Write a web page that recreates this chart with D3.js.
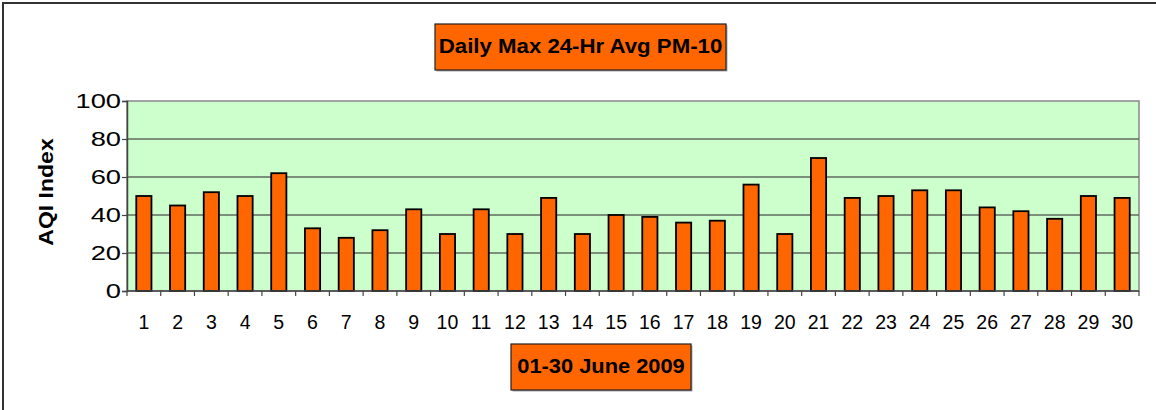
<!DOCTYPE html>
<html>
<head>
<meta charset="utf-8">
<script src="https://cdn.jsdelivr.net/npm/d3@7"></script>
<style>
  body { margin: 0; background: #fff; }
  svg { display: block; font-family: "Liberation Sans", Arial, sans-serif; }
</style>
</head>
<body>
<svg width="1156" height="410"></svg>
<script>
'use strict';

// days of June 2009
var days = d3.range(1, 31).map(String);
// daily max 24-hr avg PM-10 AQI
var aqi = [50, 45, 52, 50, 62, 33, 28, 32, 43, 30,
           43, 30, 49, 30, 40, 39, 36, 37, 56, 30,
           70, 49, 50, 53, 53, 44, 42, 38, 50, 49];
var yTicks = [0, 20, 40, 60, 80, 100];

var titleText = 'Daily Max 24-Hr Avg PM-10';
var xTitle = '01-30 June 2009';
var yTitle = 'AQI Index';

var svg = d3.select('svg');

// outer chart border (left + top only visible)
svg.append('rect')
  .attr('x', 3).attr('y', 3).attr('width', 1170).attr('height', 420)
  .attr('fill', 'none').attr('stroke', '#333').attr('stroke-width', 2);

var plotL = 127, plotR = 1139, plotT = 101, plotB = 291;

var x = d3.scaleBand().domain(days).range([plotL, plotR]).paddingInner(0.55).paddingOuter(0.275);
var xb = d3.scaleBand().domain(days).range([plotL, plotR]);
var y = d3.scaleLinear().domain([0, 100]).range([plotB, plotT]);

// plot background
svg.append('rect')
  .attr('x', plotL).attr('y', plotT)
  .attr('width', plotR - plotL).attr('height', plotB - plotT)
  .attr('fill', '#ccffcc')
  .attr('stroke', '#888').attr('stroke-width', 1.5);

// gridlines
svg.selectAll('.grid').data(yTicks.filter(function(d){ return d > 0 && d < 100; }))
  .enter().append('line')
  .attr('x1', plotL).attr('x2', plotR)
  .attr('y1', function(d){ return y(d); })
  .attr('y2', function(d){ return y(d); })
  .attr('stroke', '#5f6b5f').attr('stroke-width', 1.5);

// bars
svg.selectAll('.bar').data(aqi).enter().append('rect')
  .attr('x', function(d, i){ return x(days[i]); })
  .attr('y', function(d){ return y(d); })
  .attr('width', x.bandwidth())
  .attr('height', function(d){ return plotB - y(d); })
  .attr('fill', '#ff6600')
  .attr('stroke', '#000').attr('stroke-width', 1.8);

// y axis
var yAxis = svg.append('g').attr('transform', 'translate(' + plotL + ',0)')
  .call(d3.axisLeft(y).tickValues(yTicks).tickSize(5).tickPadding(0));
yAxis.select('.domain').attr('stroke', '#444').attr('stroke-width', 1.5);
yAxis.selectAll('.tick line').attr('stroke', '#444').attr('stroke-width', 1.2);
// labels in the original are drawn wide; stretch them horizontally
yAxis.selectAll('.tick text')
  .attr('x', null).attr('dy', null)
  .attr('transform', 'translate(-6,6.5) scale(1.4,1)')
  .attr('font-size', 19.5).attr('fill', '#000')
  .attr('font-family', '"Liberation Sans", Arial, sans-serif');

// x axis: ticks at category boundaries, labels at centers
var xAxis = svg.append('g').attr('transform', 'translate(0,' + plotB + ')');
xAxis.append('line').attr('x1', plotL).attr('x2', plotR)
  .attr('stroke', '#444').attr('stroke-width', 1.5);
xAxis.selectAll('.xt').data(days.concat(['end'])).enter().append('line')
  .attr('x1', function(d, i){ return i < days.length ? xb(d) : plotR; })
  .attr('x2', function(d, i){ return i < days.length ? xb(d) : plotR; })
  .attr('y1', 0).attr('y2', 5)
  .attr('stroke', '#444').attr('stroke-width', 1.2);
xAxis.selectAll('.xl').data(days).enter().append('text')
  .attr('x', function(d){ return xb(d) + xb.bandwidth() / 2; })
  .attr('y', 37.5)
  .attr('text-anchor', 'middle')
  .attr('font-size', 19.5)
  .text(function(d){ return d; });

// y title
svg.append('text')
  .attr('transform', 'translate(53,192) rotate(-90) scale(1.18,1)')
  .attr('text-anchor', 'middle')
  .attr('font-size', 19.5).attr('font-weight', 'bold')
  .text(yTitle);

// orange label boxes
function labelBox(x0, y0, w, h, base, sx, txt) {
  svg.append('rect').attr('x', x0 + 1.5).attr('y', y0 + 1.5).attr('width', w).attr('height', h)
    .attr('fill', '#aaa');
  svg.append('rect').attr('x', x0).attr('y', y0).attr('width', w).attr('height', h)
    .attr('fill', '#ff6600').attr('stroke', '#222').attr('stroke-width', 1.2);
  svg.append('text')
    .attr('transform', 'translate(' + (x0 + w / 2) + ',' + base + ') scale(' + sx + ',1)')
    .attr('text-anchor', 'middle')
    .attr('font-size', 19.5).attr('font-weight', 'bold')
    .text(txt);
}
labelBox(435, 24, 291, 46, 52.5, 1.14, titleText);
labelBox(511, 344, 180, 46, 373, 1.12, xTitle);
</script>
</body>
</html>
